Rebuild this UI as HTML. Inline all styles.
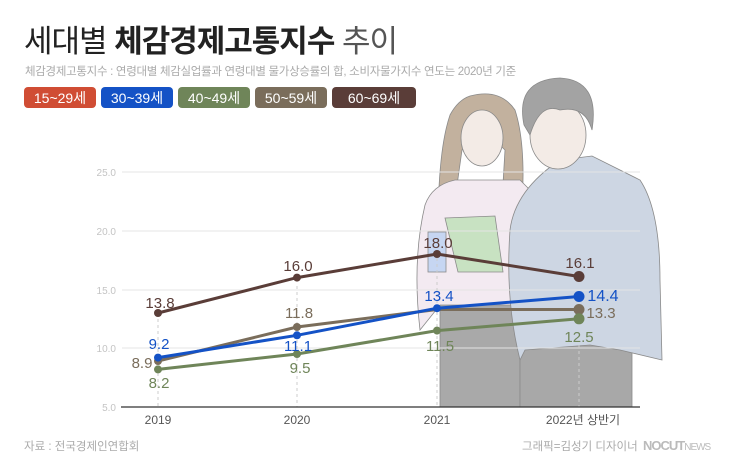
<!DOCTYPE html>
<html><head><meta charset="utf-8"><style>
body{margin:0;background:#fff;}
svg{display:block;font-family:"Liberation Sans","Noto Sans CJK KR",sans-serif;}
</style></head><body>
<svg width="740" height="460" viewBox="0 0 740 460" xmlns="http://www.w3.org/2000/svg">
<rect width="740" height="460" fill="#fff"/>
<g stroke="#8a8a8a" stroke-width="0.8">
 <path d="M470,96 Q500,88 515,110 Q528,150 520,230 L500,235 L505,150 Q480,125 462,150 L450,235 L438,230 Q438,150 450,115 Q458,100 470,96Z" fill="#c2b19e"/>
 <ellipse cx="482" cy="138" rx="21" ry="28" fill="#f3ebe6"/>
 <rect x="440" y="298" width="80" height="109" fill="#a9a9a9"/>
 <path d="M455,180 L520,180 L540,200 L540,305 L440,305 L420,330 Q412,260 425,205 Q432,185 455,180Z" fill="#f3eaf1"/>
 <rect x="520" y="340" width="112" height="67" fill="#a8a8a8"/>
 <path d="M560,160 L592,156 L640,180 Q660,210 660,280 L662,360 L620,350 L590,345 L525,350 L520,360 Q505,300 510,230 Q515,190 560,160Z" fill="#cdd6e3"/>
 <ellipse cx="558" cy="135" rx="28" ry="34" fill="#f3ebe6"/>
 <path d="M524,125 Q515,80 560,78 Q600,80 592,130 Q585,105 560,110 Q540,102 530,135Z" fill="#a3a3a3"/>
 <path d="M445,218 L495,216 L503,272 L458,272Z" fill="#c8e2c2"/>
 <rect x="428" y="232" width="18" height="40" fill="#c6d6f2"/>
</g>
<text x="24" y="52" font-size="31" fill="#222" letter-spacing="-1">세대별 <tspan font-weight="bold">체감경제고통지수</tspan> <tspan fill="#555">추이</tspan></text>
<text x="25" y="75" font-size="11.5" fill="#aaa" letter-spacing="-0.3">체감경제고통지수 : 연령대별 체감실업률과 연령대별 물가상승률의 합, 소비자물가지수 연도는 2020년 기준</text>
<g font-size="14" fill="#fff" text-anchor="middle">
 <rect x="24" y="87" width="72" height="21" rx="4" fill="#d04d34"/><text x="60" y="103">15~29세</text>
 <rect x="101" y="87" width="72" height="21" rx="4" fill="#1452c6"/><text x="137" y="103">30~39세</text>
 <rect x="178" y="87" width="72" height="21" rx="4" fill="#6f8559"/><text x="214" y="103">40~49세</text>
 <rect x="255" y="87" width="72" height="21" rx="4" fill="#7a6d5b"/><text x="291" y="103">50~59세</text>
 <rect x="332" y="87" width="84" height="21" rx="4" fill="#5a3d38"/><text x="374" y="103">60~69세</text>
</g>
<g stroke="#e4e4e4" stroke-width="1">
 <line x1="122" y1="172" x2="640" y2="172"/><line x1="122" y1="231" x2="640" y2="231"/>
 <line x1="122" y1="290" x2="640" y2="290"/><line x1="122" y1="348" x2="640" y2="348"/>
</g>
<g stroke="#ccc" stroke-dasharray="3,3"><line x1="158" y1="313" x2="158" y2="407"/><line x1="297" y1="286" x2="297" y2="407"/><line x1="437" y1="258" x2="437" y2="407"/><line x1="579" y1="345" x2="579" y2="407"/></g>
<line x1="121" y1="407" x2="640" y2="407" stroke="#333" stroke-width="1.2"/>
<g font-size="10" fill="#c4c4c4" text-anchor="end">
 <text x="116" y="176">25.0</text><text x="116" y="235">20.0</text><text x="116" y="294">15.0</text><text x="116" y="352">10.0</text><text x="116" y="411">5.0</text>
</g>
<g font-size="12" fill="#555" text-anchor="middle">
 <text x="158" y="424">2019</text><text x="297" y="424">2020</text><text x="437" y="424">2021</text><text x="583" y="424">2022년 상반기</text>
</g>
<g stroke-width="3" fill="none">
 <polyline points="158,313 297,277.6 437,254 579,276.5" stroke="#5a3d38"/>
 <polyline points="158,361 297,327 437,309.5 579,309.5" stroke="#7a6d5b"/>
 <polyline points="158,369.4 297,354 437,330.6 579,318.8" stroke="#6f8559"/>
 <polyline points="158,357.6 297,335.3 437,308.2 579,296.5" stroke="#1452c6"/>
</g>
<g fill="#5a3d38"><circle cx="158" cy="313" r="4"/><circle cx="297" cy="277.6" r="4"/><circle cx="437" cy="254" r="4"/><circle cx="579" cy="276.5" r="5.5"/></g>
<g fill="#7a6d5b"><circle cx="158" cy="361" r="4"/><circle cx="297" cy="327" r="4"/><circle cx="579" cy="309.5" r="5.5"/></g>
<g fill="#6f8559"><circle cx="158" cy="369.4" r="4"/><circle cx="297" cy="354" r="4"/><circle cx="437" cy="330.6" r="4"/><circle cx="579" cy="318.8" r="5.5"/></g>
<g fill="#1452c6"><circle cx="158" cy="357.6" r="4"/><circle cx="297" cy="335.3" r="4"/><circle cx="437" cy="308.2" r="4"/><circle cx="579" cy="296.5" r="5.5"/></g>
<g font-size="15" text-anchor="middle">
 <g fill="#5a3d38"><text x="160" y="308">13.8</text><text x="298" y="271">16.0</text><text x="438" y="248">18.0</text><text x="580" y="268">16.1</text></g>
 <g fill="#7a6d5b"><text x="142" y="368">8.9</text><text x="299" y="318">11.8</text><text x="601" y="318">13.3</text></g>
 <g fill="#6f8559"><text x="159" y="388">8.2</text><text x="300" y="373">9.5</text><text x="440" y="351">11.5</text><text x="579" y="342">12.5</text></g>
 <g fill="#1452c6"><text x="159" y="349">9.2</text><text x="298" y="351">11.1</text><text x="439" y="301">13.4</text><text x="603" y="301" font-size="16">14.4</text></g>
</g>
<text x="24" y="450" font-size="11.5" fill="#aaa">자료 : 전국경제인연합회</text>
<text x="522" y="450" font-size="11.5" fill="#aaa">그래픽=김성기 디자이너</text>
<text x="643" y="450" font-size="13" fill="#bbb" font-weight="bold" letter-spacing="-1">NOCUT<tspan font-weight="normal" font-size="10">NEWS</tspan></text>
</svg>
</body></html>
